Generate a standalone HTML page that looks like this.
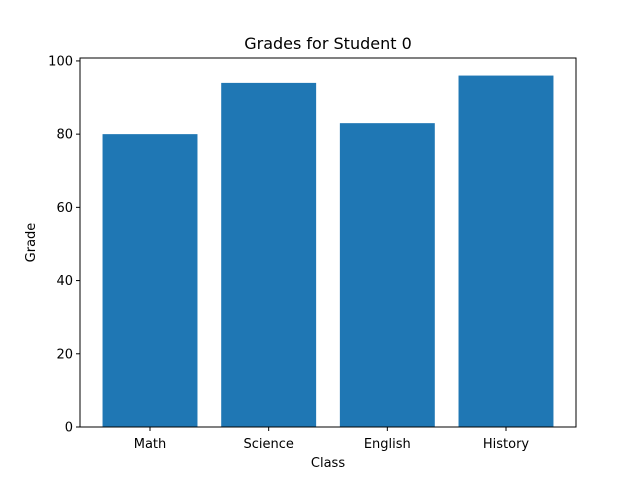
<!DOCTYPE html>
<html><head><meta charset="utf-8"><style>
body{margin:0;background:#fff;}
svg{display:block;font-family:"DejaVu Sans","Liberation Sans",sans-serif;}
</style></head><body>
<svg id="chart" width="640" height="480" viewBox="0 0 640 480">
<rect width="640" height="480" fill="#fff"/>
<text x="328" y="49" font-size="16" text-anchor="middle">Grades for Student 0</text>
<g id="bars"></g>
<g id="axes"></g>
<rect x="80" y="58" width="496" height="369" fill="none" stroke="#000" stroke-width="1"/>
<text x="328" y="467" font-size="13" text-anchor="middle">Class</text>
<text x="35" y="242.5" font-size="13" text-anchor="middle" transform="rotate(-90 35 242.5)">Grade</text>
</svg>
<script>
const categories=["Math","Science","English","History"];
const grades=[80,94,83,96];
const yTicks=[0,20,40,60,80,100];
const L=80,R=576,T=58,B=427;
const yMax=Math.max(...grades)*1.05;
const xMin=-0.59,xMax=categories.length-1+0.59;
const xs=v=>L+(v-xMin)/(xMax-xMin)*(R-L);
const ys=v=>B-v/yMax*(B-T);
const NS="http://www.w3.org/2000/svg";
const bars=document.getElementById('bars'),axes=document.getElementById('axes');
function mk(t,a,p){const e=document.createElementNS(NS,t);for(const k in a)e.setAttribute(k,a[k]);p.appendChild(e);return e;}
grades.forEach((g,i)=>{
 const r=mk('rect',{x:xs(i-0.4),y:ys(g),width:xs(i+0.4)-xs(i-0.4),height:B-ys(g),fill:'#1f77b4'},bars);
 
 
 mk('line',{x1:xs(i),x2:xs(i),y1:B,y2:B+4,stroke:'#000'},axes);
 const t=mk('text',{x:xs(i),y:B+21,'font-size':13,'text-anchor':'middle'},axes);
 t.textContent=categories[i];
 
 
});
yTicks.forEach(v=>{
 mk('line',{x1:L-4,x2:L,y1:ys(v),y2:ys(v),stroke:'#000'},axes);
 const t=mk('text',{x:L-7,y:ys(v)+4.5,'font-size':13,'text-anchor':'end'},axes);
 t.textContent=v;
 
 
});
</script>
</body></html>
